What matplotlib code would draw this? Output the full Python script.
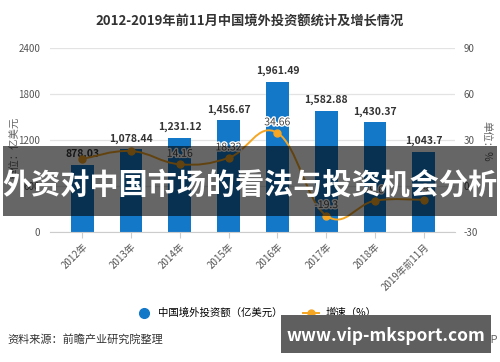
import matplotlib
matplotlib.use('Agg')
import matplotlib.pyplot as plt
import numpy as np
from matplotlib.path import Path
from matplotlib.patches import PathPatch, Rectangle
from matplotlib.lines import Line2D
import matplotlib.patheffects as pe

plt.rcParams['font.family'] = ['Noto Sans CJK SC', 'DejaVu Sans']
plt.rcParams['axes.unicode_minus'] = False

years = ['2012年', '2013年', '2014年', '2015年', '2016年', '2017年', '2018年', '2019年前11月']
invest = [878.03, 1078.44, 1231.12, 1456.67, 1961.49, 1582.88, 1430.37, 1043.7]
invest_labels = ['878.03', '1,078.44', '1,231.12', '1,456.67', '1,961.49', '1,582.88', '1,430.37', '1,043.7']
growth = [17.6, 22.8, 14.16, 18.32, 34.66, -19.3, -9.6, -9.0]
# growth labels that the original chart shows (others hidden by overlap)
growth_shown = [False, False, True, True, True, True, True, True]

blue = '#1478c8'
orange = '#f5a623'
W, H = 500, 362

fig = plt.figure(figsize=(5, 3.62), dpi=100)
ax = fig.add_axes([50/W, 130/H, 405/W, 184/H])
ax2 = ax.twinx()

x = np.arange(len(years))
ax.bar(x, invest, width=0.465, color=blue, zorder=2)
for xi, v, lab in zip(x, invest, invest_labels):
    ax.annotate(lab, (xi, v), xytext=(0, 4), textcoords='offset points',
                ha='center', va='bottom', fontsize=7.5, fontweight='bold',
                color='#333333', zorder=5)

ax.set_xlim(-0.66, 7.64)
ax.set_ylim(0, 2400)
ax.set_yticks([0, 600, 1200, 1800, 2400])
ax.set_xticks(x)
ax.set_xticklabels(years, rotation=45, ha='right', rotation_mode='anchor',
                   fontsize=7, color='#555555')
ax.grid(axis='y', color='#e3e3e3', linewidth=0.9, zorder=0)
ax.set_axisbelow(True)
for s in ['top', 'right', 'left']:
    ax.spines[s].set_visible(False)
    ax2.spines[s].set_visible(False)
ax.spines['bottom'].set_color('#cccccc')
ax2.spines['bottom'].set_visible(False)
ax.tick_params(axis='y', length=0, labelsize=7, labelcolor='#555555', pad=7)
ax.tick_params(axis='x', length=4, color='#cccccc', pad=3)

ax2.set_ylim(-30, 90)
ax2.set_yticks([-30, 0, 30, 60, 90])
ax2.tick_params(axis='y', length=0, labelsize=7, labelcolor='#555555', pad=6)

# smooth growth line (bezier through the data points)
pts = np.column_stack([x, growth]).astype(float)
s = 0.2
verts = [pts[0]]
codes = [Path.MOVETO]
n = len(pts)
for i in range(n - 1):
    p0 = pts[max(i - 1, 0)]
    p1 = pts[i]
    p2 = pts[i + 1]
    p3 = pts[min(i + 2, n - 1)]
    verts += [p1 + (p2 - p0) * s, p2 - (p3 - p1) * s, p2]
    codes += [Path.CURVE4] * 3
ax2.add_patch(PathPatch(Path(verts, codes), facecolor='none', edgecolor=orange,
                        linewidth=1.4, zorder=3))
ax2.plot(x, growth, 'o', color=orange, markersize=5, zorder=4)
for xi, g, show in zip(x, growth, growth_shown):
    if show:
        ax2.annotate(f'{g:g}', (xi, g), xytext=(0, 4), textcoords='offset points',
                     ha='center', va='bottom', fontsize=7.5, color='#444444',
                     path_effects=[pe.withStroke(linewidth=2, foreground='white')],
                     zorder=5)

fig.text(250/W, 1 - 22/H, '2012-2019年前11月中国境外投资额统计及增长情况',
         ha='center', va='center', fontsize=9.5, fontweight='bold', color='#333333')
fig.text(15/W, 1 - 148/H, '单位：亿美元', rotation=90, ha='center', va='center',
         fontsize=7.5, color='#666666')
fig.text(486/W, 1 - 141/H, '单位：%', rotation=-90, ha='center', va='center',
         fontsize=7.5, color='#666666')

handles = [Line2D([], [], marker='o', color=blue, linestyle='none', markersize=7),
           Line2D([], [], marker='o', color=orange, linewidth=1.4, markersize=5)]
fig.legend(handles, ['中国境外投资额（亿美元）', '增速（%）'], loc='center',
           bbox_to_anchor=(256/W, 1 - 313/H), ncol=2, frameon=False, fontsize=7.5,
           handlelength=1.5, columnspacing=2.0, handletextpad=0.6)

fig.text(7/W, 1 - 339/H, '资料来源：前瞻产业研究院整理', ha='left', va='center',
         fontsize=8, color='#333333')
fig.text(498/W, 1 - 339/H, '前瞻经济学人APP', ha='right', va='center',
         fontsize=8, color='#666666')

# overlay banners
fig.patches.append(Rectangle((3/W, 1 - 216/H), 494/W, 70/H, transform=fig.transFigure,
                             facecolor='black', alpha=0.6, zorder=10))
fig.text(250/W, 1 - 185/H, '外资对中国市场的看法与投资机会分析', ha='center', va='center',
         fontsize=21, fontweight='bold', color='white', zorder=11)
fig.patches.append(Rectangle((281/W, 1 - 353/H), 210/W, 38/H, transform=fig.transFigure,
                             facecolor='#5f5f5f', zorder=10))
fig.text(386/W, 1 - 336/H, 'www.vip-mksport.com', ha='center', va='center',
         fontsize=12.5, fontweight='bold', color='white', zorder=11)

fig.savefig('out.png', dpi=100)
